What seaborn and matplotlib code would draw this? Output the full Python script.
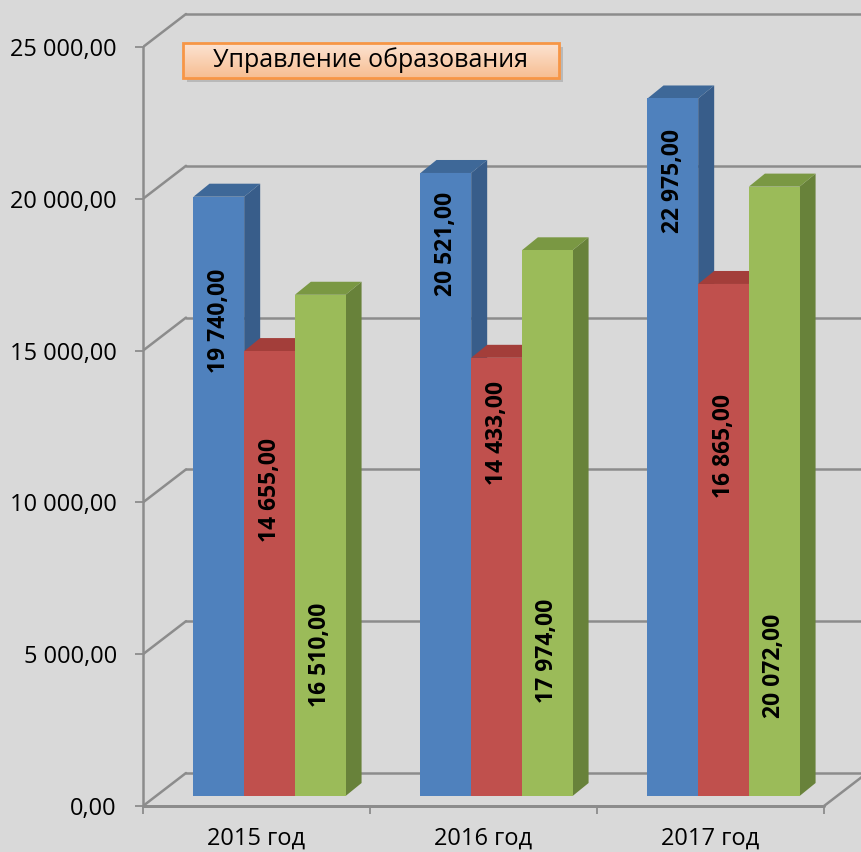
import numpy as np
import pandas as pd
import seaborn as sns
import matplotlib.pyplot as plt
from matplotlib.colors import to_rgb, LinearSegmentedColormap
from matplotlib.patches import Polygon, Rectangle

years = ["2015 год", "2016 год", "2017 год"]
series = ["Ряд 1", "Ряд 2", "Ряд 3"]
blue_vals = [19740, 20521, 22975]
red_vals = [14655, 14433, 16865]
green_vals = [16510, 17974, 20072]
# where each data label sits (value units, on the bar face)
label_y = [[15650, 18200, 20250], [10080, 11950, 11530], [4640, 4780, 4280]]
yticks = [0, 5000, 10000, 15000, 20000, 25000]
title = "Управление образования"

front_cols = ["#4F81BD", "#C0504D", "#9BBB59"]
side_cols = ["#385D8A", "#8E3B38", "#68823A"]
top_cols = ["#3E6898", "#A33E3A", "#7A9843"]
bg = "#D9D9D9"
grid_c = "#8C8C8C"


def ru(v):
    return f"{v:,.2f}".replace(",", " ").replace(".", ",")


df = pd.DataFrame({
    "year": years * 3,
    "series": np.repeat(series, 3),
    "value": blue_vals + red_vals + green_vals,
})

sns.set_style("white")
plt.rcParams["font.family"] = ["Open Sans", "DejaVu Sans"]
plt.rcParams["text.color"] = "black"

W, H = 862, 852
fig = plt.figure(figsize=(W / 100, H / 100), dpi=100, facecolor=bg)
# plot box: px x 143..862, px y 0..806 (value 0 at 806)
ax = fig.add_axes([143 / W, (H - 806) / H, (W - 143) / W, 806 / H])
ax.set_facecolor(bg)

sns.barplot(data=df, x="year", y="value", hue="series", palette=front_cols,
            width=0.67, saturation=1, errorbar=None, legend=False, ax=ax)

px_x = 227.0          # px per category
px_y = 30.36 / 1000   # px per value unit
DX, DY = 43 / px_x, 33 / px_y          # full depth of the floor
f0 = 10 / 33                           # bar front position in depth
dx0, dy0 = f0 * DX, f0 * DY
bdx, bdy = 16 / px_x, 13 / px_y        # bar depth

xmax = -0.5 + (W - 143) / px_x
ymax = 806 / px_y

# walls and floor
lw = 1.8
for v in yticks:
    ax.plot([-0.5 + DX, xmax + 0.1], [v + DY, v + DY], color=grid_c, lw=lw, zorder=1, clip_on=False)
    ax.plot([-0.5, -0.5 + DX], [v, v + DY], color=grid_c, lw=lw, zorder=1)
ax.plot([-0.5, -0.5], [0, 25000], color=grid_c, lw=lw, zorder=1, clip_on=False)
ax.plot([-0.5, 2.5], [0, 0], color=grid_c, lw=lw * 1.2, zorder=1, clip_on=False)
ax.plot([2.5, 2.5 + DX], [0, DY], color=grid_c, lw=lw, zorder=1, clip_on=False)

# 3d bars built from seaborn's bars
bars = sorted(ax.patches, key=lambda p: p.get_x())
for k, p in enumerate(bars):
    s = k % 3
    x, w, h = p.get_x() + dx0, p.get_width(), p.get_height()
    p.set_x(x)
    p.set_y(dy0)
    z = 3 + k * 0.1
    p.set_zorder(z + 0.03)
    p.set_edgecolor("none")
    y0, y1 = dy0, dy0 + h
    side = Polygon([(x + w, y0), (x + w, y1), (x + w + bdx, y1 + bdy), (x + w + bdx, y0 + bdy)],
                   closed=True, facecolor=side_cols[s], edgecolor="none", zorder=z)
    top = Polygon([(x, y1), (x + w, y1), (x + w + bdx, y1 + bdy), (x + bdx, y1 + bdy)],
                  closed=True, facecolor=top_cols[s], edgecolor="none", zorder=z + 0.01)
    ax.add_patch(side)
    ax.add_patch(top)

# data labels
vals = [blue_vals, red_vals, green_vals]
for s in range(3):
    hue_bars = [b for b in bars if tuple(b.get_facecolor()[:3]) == to_rgb(front_cols[s])]
    hue_bars.sort(key=lambda p: p.get_x())
    for i, b in enumerate(hue_bars):
        ax.text(b.get_x() + b.get_width() / 2, dy0 + label_y[s][i], ru(vals[s][i]), rotation=90,
                ha="center", va="center", fontsize=16.5, fontweight="bold", color="black", zorder=10)

# axes ticks
ax.set_yticks(yticks)
ax.set_yticklabels([ru(v) for v in yticks])
ax.set_xticks([0, 1, 2])
ax.set_xticks([-0.5, 0.5, 1.5, 2.5], minor=True)
ax.set_xlabel("")
ax.set_ylabel("")
ax.tick_params(axis="y", length=5.8, width=1.3, color=grid_c, pad=13, labelsize=17,
               labelcolor="black", left=True)
ax.tick_params(axis="x", which="major", length=0, pad=15, labelsize=17, labelcolor="black")
ax.tick_params(axis="x", which="minor", length=5.8, width=1.3, color=grid_c, bottom=True)
for sp in ax.spines.values():
    sp.set_visible(False)

# title box
bx0, bx1 = -0.5 + (183 - 143) / px_x, -0.5 + (559 - 143) / px_x
by0, by1 = (806 - 78) / px_y, (806 - 43) / px_y
ax.add_patch(Rectangle((bx0 + 4 / px_x, by0 - 4 / px_y), bx1 - bx0, by1 - by0,
                       facecolor="#9A9A9A", edgecolor="none", alpha=0.5, zorder=11))
grad = np.linspace(0, 1, 50)[:, None]
cmap = LinearSegmentedColormap.from_list("g", ["#FCE3D2", "#F7BE92"])
ax.imshow(grad, extent=[bx0, bx1, by0, by1], cmap=cmap, aspect="auto", origin="upper", zorder=12)
ax.add_patch(Rectangle((bx0, by0), bx1 - bx0, by1 - by0, facecolor="none",
                       edgecolor="#F79646", lw=2, zorder=13))
ax.text((bx0 + bx1) / 2, (by0 + by1) / 2, title, ha="center", va="center",
        fontsize=18, color="black", zorder=14)
ax.set_xlim(-0.5, xmax)
ax.set_ylim(0, ymax)

fig.savefig("out.png", dpi=100, facecolor=bg)
